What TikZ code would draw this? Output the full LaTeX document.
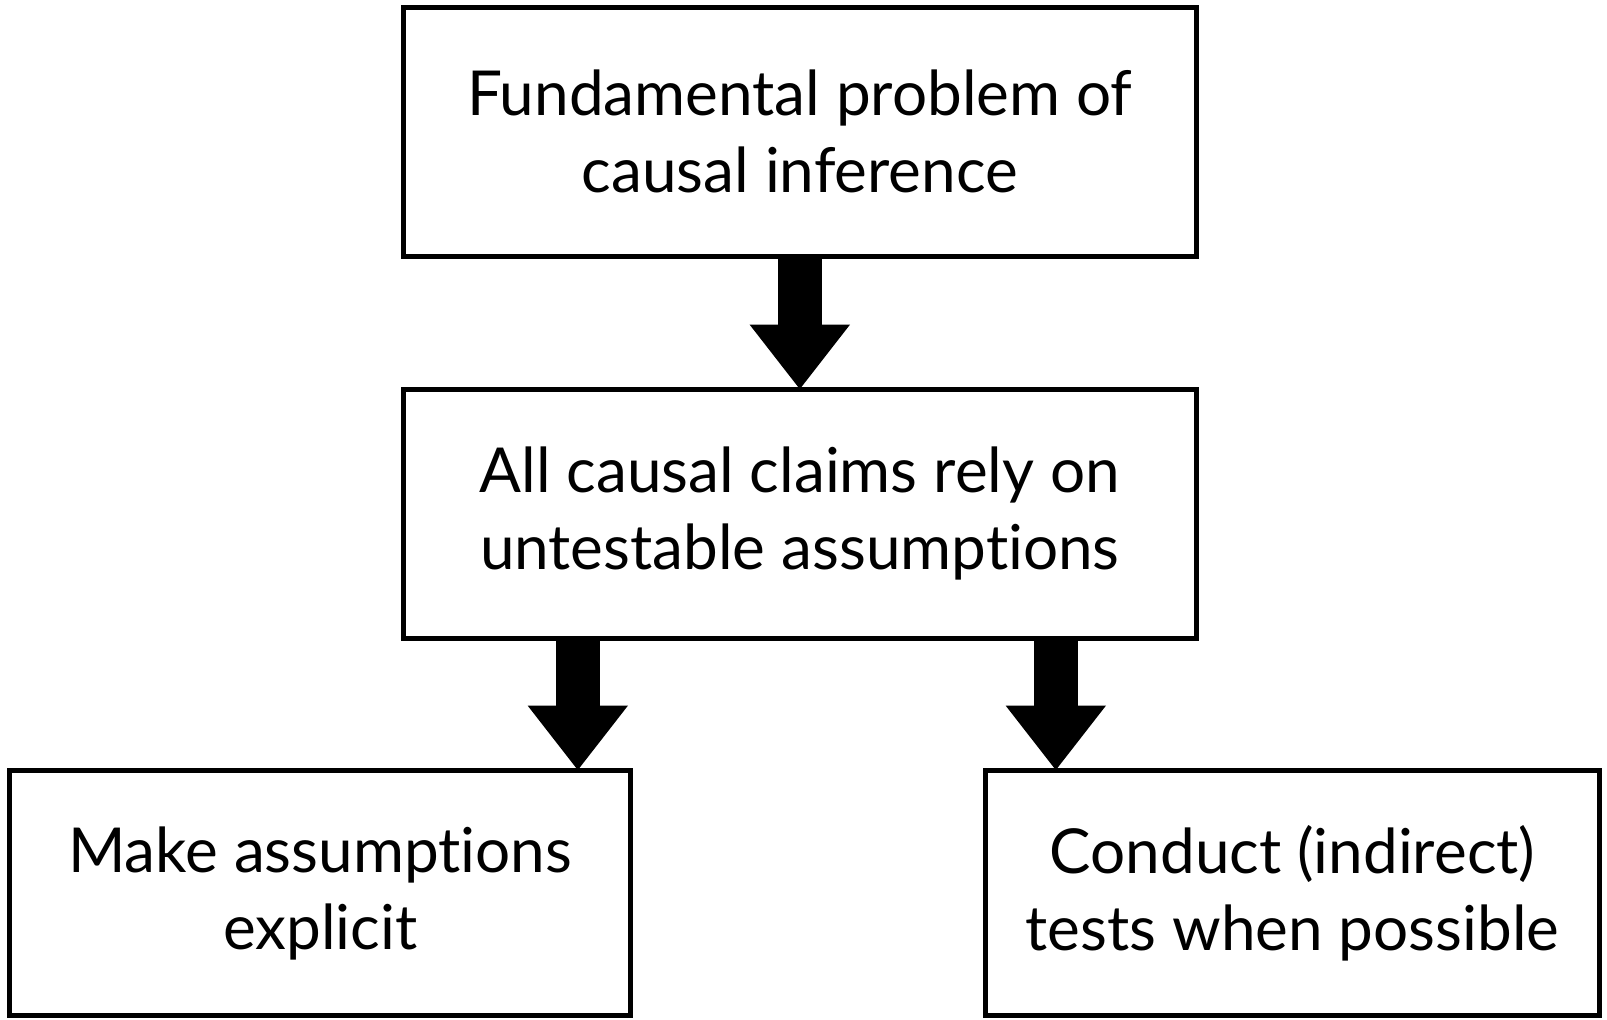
\documentclass[tikz,border=0pt]{standalone}
\usepackage{fontspec}
\setmainfont{Lato}[Ligatures=NoCommon]
\usetikzlibrary{arrows.meta}
\tikzset{
  box/.style={draw, line width=2.5pt, inner sep=0pt, outer sep=0pt, align=center,
    font=\fontsize{31pt}{38.5pt}\selectfont},
  bigarrow/.style={line width=22pt, -{Triangle[width=48pt,length=32.5pt]}}
}
\begin{document}
\begin{tikzpicture}[x=1pt,y=1pt]
\useasboundingbox (0,0) rectangle (803.5,509.5);
\node[box, minimum width=396.25pt, minimum height=124.25pt] (top) at (399.9,443.6)
  {Fundamental problem of\\causal inference};
\node[box, minimum width=396.25pt, minimum height=124.25pt] (mid) at (399.9,252.6)
  {All causal claims rely on\\untestable assumptions};
\node[box, minimum width=310.25pt, minimum height=122.5pt] (bl) at (160.1,63)
  {Make assumptions\\explicit};
\node[box, minimum width=307pt, minimum height=122.5pt] (br) at (646.25,63)
  {Conduct (indirect)\\tests when possible};
\draw[bigarrow] (top.south) -- (mid.north);
\draw[bigarrow] ([xshift=-111pt]mid.south) -- ([xshift=-111pt]mid.south |- bl.north);
\draw[bigarrow] ([xshift=128pt]mid.south) -- ([xshift=128pt]mid.south |- br.north);
\end{tikzpicture}
\end{document}
